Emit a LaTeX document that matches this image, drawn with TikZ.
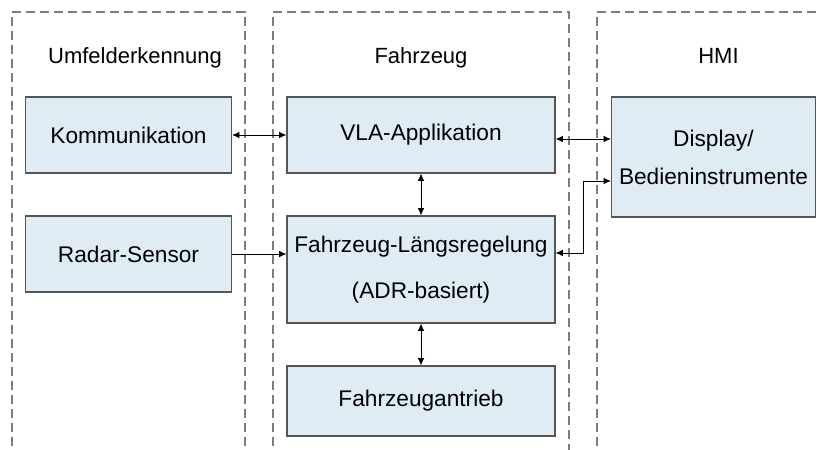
\documentclass[tikz,border=0pt]{standalone}
\usepackage{fontspec}
\setmainfont{Liberation Sans}
\usetikzlibrary{arrows.meta}

\definecolor{boxfill}{RGB}{223,236,244}
\definecolor{boxline}{RGB}{85,85,85}
\definecolor{zoneline}{RGB}{125,125,125}

\tikzset{every picture/.style={line width=0.75pt}}
\tikzset{
  zone/.style={color=zoneline, line width=1.1pt, dash pattern=on 7pt off 3.5pt},
  blk/.style={draw=boxline, fill=boxfill, line width=0.9pt, inner sep=0pt, align=center, font=\fontsize{17}{20.5}\selectfont},
  ttl/.style={anchor=base, inner sep=0pt, font=\fontsize{16.5}{20}\selectfont},
  link/.style={line width=0.6pt, arrows={-Latex[length=5.5pt,width=5pt]}},
  dlink/.style={line width=0.6pt, arrows={Latex[length=5.5pt,width=5pt]-Latex[length=5.5pt,width=5pt]}}
}

\begin{document}
\begin{tikzpicture}[x=0.75pt,y=0.75pt,yscale=-1,xscale=1]
	%set diagram size
	\useasboundingbox (0,0) rectangle (818,450);
	
	%Shape: Dashed zones
	\draw [zone]  (12,460) -- (12,12) -- (245,12) -- (245,460) ;
	\draw [zone]  (273,460) -- (273,12) -- (569,12) -- (569,460) ;
	\draw [zone]  (597,460) -- (597,12) -- (840,12) ;
	
	\node [ttl] (tumf) at (135,63) {Umfelderkennung};
	\node [ttl] (tfzg) at (421,63) {Fahrzeug};
	\node [ttl] (thmi) at (718.5,63) {HMI};
	
	%Shape: Rectangles
	\node [blk, minimum width=154.5pt, minimum height=57pt] (komm) at (128.5,135) {Kommunikation};
	\node [blk, minimum width=154.5pt, minimum height=57pt] (radar) at (128.5,254) {Radar-Sensor};
	\node [blk, minimum width=201pt, minimum height=57pt] (vla) at (421,135) {VLA-Applikation};
	\node [blk, minimum width=201pt, minimum height=80.25pt, font=\fontsize{17}{34.5}\selectfont] (adr) at (421,269.5) {Fahrzeug-Längsregelung\\(ADR-basiert)};
	\node [blk, minimum width=201pt, minimum height=52.5pt] (antrieb) at (421,401) {Fahrzeugantrieb};
	\node [blk, minimum width=153pt, minimum height=90pt, font=\fontsize{17}{28.5}\selectfont] (disp) at (713.5,157) {Display/\\Bedieninstrumente};
	
	%Connectors
	\draw [dlink]  (komm) -- (vla) ;
	\draw [dlink]  ([yshift=3pt]vla.east) -- ([yshift=3pt]vla.east -| disp.west) ;
	\draw [link]   (radar.east) -- (radar.east -| adr.west) ;
	\draw [dlink]  (vla) -- (adr) ;
	\draw [dlink]  (adr) -- (antrieb) ;
	\draw [dlink]  ([yshift=-12.4pt]adr.east) -- ++(28,0) |- ([yshift=18pt]disp.west) ;
	
\end{tikzpicture}
\end{document}
